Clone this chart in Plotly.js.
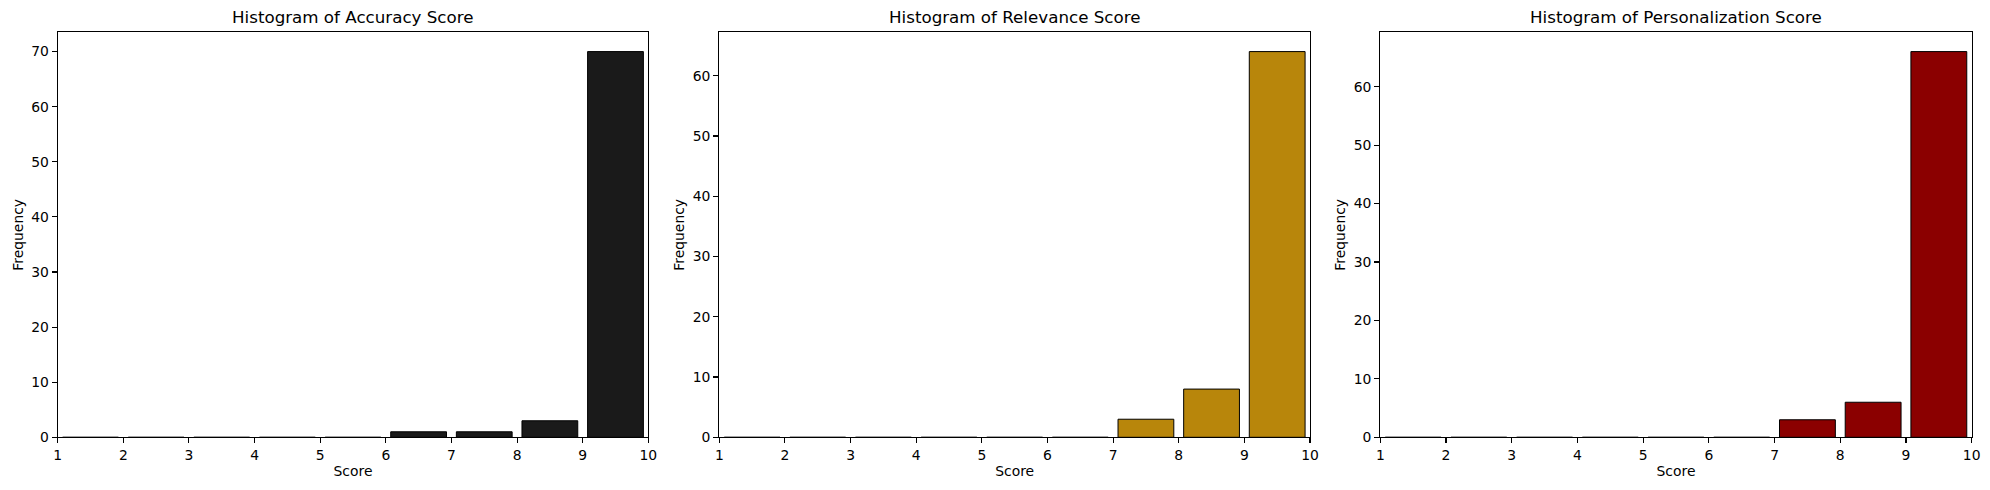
<!DOCTYPE html>
<html>
<head>
<meta charset="utf-8">
<script src="https://cdn.plot.ly/plotly-3.0.1.min.js"></script>
<style>
html, body { margin: 0; padding: 0; background: #ffffff; }
#chart { width: 1990px; height: 490px; }
</style>
</head>
<body>
<div id="chart"></div>
<script>
// Bin edges (score bins of width 1, from 1 to 10)
const binStarts = [1, 2, 3, 4, 5, 6, 7, 8, 9];
const binWidth = 1;

// Counts per bin
const accuracyCounts        = [0, 0, 0, 0, 0, 1, 1, 3, 70];
const relevanceCounts       = [0, 0, 0, 0, 0, 0, 3, 8, 64];
const personalizationCounts = [0, 0, 0, 0, 0, 0, 3, 6, 66];

const panelTitles = ['Histogram of Accuracy Score', 'Histogram of Relevance Score', 'Histogram of Personalization Score'];
const panelColors = ['#1a1a1a', '#b8860b', '#8b0000'];
const tickVals = [1, 2, 3, 4, 5, 6, 7, 8, 9, 10];
const tickText = ['1', '2', '3', '4', '5', '6', '7', '8', '9', '10'];

const allCounts = [accuracyCounts, relevanceCounts, personalizationCounts];
const binCenters = binStarts.map(s => s + binWidth / 2);

const FONT = 'DejaVu Sans, sans-serif';
const xDomains = [[57.7/1990, 648.3/1990], [719.3/1990, 1310/1990], [1380.3/1990, 1971.7/1990]];
const yDomain = [1 - 437.3/490, 1 - 32.3/490];

const traces = [];
const layout = {
  width: 1990, height: 490,
  margin: {l: 0, r: 0, t: 0, b: 0, pad: 0},
  paper_bgcolor: '#ffffff', plot_bgcolor: '#ffffff',
  showlegend: false,
  font: {family: FONT, size: 13.9, color: '#000000'},
  bargap: 0,
  annotations: []
};

allCounts.forEach((counts, i) => {
  const sfx = i === 0 ? '' : String(i + 1);
  const ymax = Math.max(...counts) * 1.05;
  traces.push({
    type: 'bar',
    x: binCenters,
    y: counts,
    width: binCenters.map(() => binWidth * 0.85),
    marker: {color: panelColors[i], line: {color: '#000000', width: 1}},
    xaxis: 'x' + sfx, yaxis: 'y' + sfx,
    hoverinfo: 'x+y'
  });
  layout['xaxis' + sfx] = {
    domain: xDomains[i], anchor: 'y' + sfx,
    range: [1, 10], tickmode: 'array', tickvals: tickVals, ticktext: tickText,
    showgrid: false, zeroline: false,
    showline: true, mirror: true, linecolor: '#000000', linewidth: 1.1,
    ticks: 'outside', ticklen: 5, tickwidth: 1.1, tickcolor: '#000000',
    tickfont: {family: FONT, size: 13.9, color: '#000000'},
    title: {text: 'Score', font: {family: FONT, size: 13.9, color: '#000000'}, standoff: 4},
    automargin: false
  };
  layout['yaxis' + sfx] = {
    domain: yDomain, anchor: 'x' + sfx,
    range: [0, ymax], dtick: 10, tick0: 0,
    showgrid: false, zeroline: false,
    showline: true, mirror: true, linecolor: '#000000', linewidth: 1.1,
    ticks: 'outside', ticklen: 5, tickwidth: 1.1, tickcolor: '#000000',
    tickfont: {family: FONT, size: 13.9, color: '#000000'},
    title: {text: 'Frequency', font: {family: FONT, size: 13.9, color: '#000000'}, standoff: 4},
    automargin: false
  };
  layout.annotations.push({
    text: panelTitles[i],
    xref: 'x' + sfx + ' domain', yref: 'y' + sfx + ' domain',
    x: 0.5, y: 1, xanchor: 'center', yanchor: 'bottom', yshift: 3,
    showarrow: false,
    font: {family: FONT, size: 16.7, color: '#000000'}
  });
});

Plotly.newPlot('chart', traces, layout, {displayModeBar: false, staticPlot: true});
</script>
</body>
</html>
